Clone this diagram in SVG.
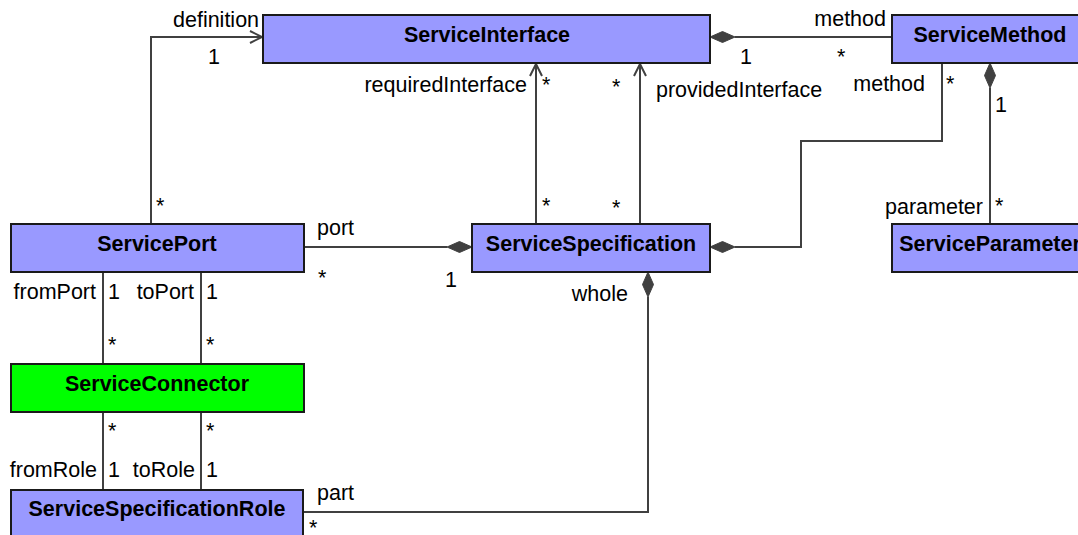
<svg xmlns="http://www.w3.org/2000/svg" width="1078" height="535" viewBox="0 0 1078 535">
<defs>
<style>
.node{fill:#9999ff;stroke:#1a1a1a;stroke-width:2}
.green{fill:#00ff00}
.name{font-family:"Liberation Sans",Arial,sans-serif;font-size:21.5px;font-weight:bold;fill:#000;text-anchor:middle}
.lbl{font-family:"Liberation Sans",Arial,sans-serif;font-size:21.5px;fill:#000}
.e{text-anchor:end}
.edge{fill:none;stroke:#404040;stroke-width:2}
.dia{fill:#404040;stroke:#404040;stroke-width:1}
</style>
<marker id="open" markerWidth="16" markerHeight="16" refX="13" refY="7" orient="auto" markerUnits="userSpaceOnUse">
<path d="M1,1 L13,7 L1,13" fill="none" stroke="#404040" stroke-width="2"/>
</marker>
</defs>
<rect width="1078" height="535" fill="#fff"/>
<g id="connectors">
<!-- definition -->
<path class="edge" d="M151,224 V37 H262" marker-end="url(#open)"/>
<!-- requiredInterface -->
<path class="edge" d="M536,224 V64" marker-end="url(#open)"/>
<!-- providedInterface -->
<path class="edge" d="M640,224 V64" marker-end="url(#open)"/>
<!-- ServiceInterface - ServiceMethod -->
<path class="edge" d="M735,37 H892"/>
<polygon class="dia" points="710,37 722.5,31.5 735,37 722.5,42.5"/>
<!-- ServiceMethod - ServiceSpecification -->
<path class="edge" d="M942,63 V141 H801 V247 H735"/>
<polygon class="dia" points="710,247 722.5,241.5 735,247 722.5,252.5"/>
<!-- ServiceMethod - ServiceParameter -->
<path class="edge" d="M990,88 V224"/>
<polygon class="dia" points="990,63 995.5,75.5 990,88 984.5,75.5"/>
<!-- port -->
<path class="edge" d="M304,247 H447"/>
<polygon class="dia" points="472,247 459.5,241.5 447,247 459.5,252.5"/>
<!-- fromPort / toPort -->
<path class="edge" d="M103,272 V364"/>
<path class="edge" d="M201,272 V364"/>
<!-- fromRole / toRole -->
<path class="edge" d="M103,412 V490"/>
<path class="edge" d="M201,412 V490"/>
<!-- whole / part -->
<path class="edge" d="M648,297 V512 H303"/>
<polygon class="dia" points="648,272 653.5,284.5 648,297 642.5,284.5"/>
</g>
<g id="labels">
<text class="lbl" x="173" y="27">definition</text>
<text class="lbl" x="208" y="64">1</text>
<text class="lbl" x="156" y="213">*</text>
<text class="lbl e" x="527" y="92">requiredInterface</text>
<text class="lbl" x="542" y="92">*</text>
<text class="lbl" x="542" y="213">*</text>
<text class="lbl" x="612" y="94">*</text>
<text class="lbl" x="612" y="215">*</text>
<text class="lbl" x="656" y="97">providedInterface</text>
<text class="lbl e" x="886" y="26">method</text>
<text class="lbl" x="740" y="64">1</text>
<text class="lbl" x="837" y="64">*</text>
<text class="lbl e" x="925" y="91">method</text>
<text class="lbl" x="946" y="91">*</text>
<text class="lbl" x="995" y="112">1</text>
<text class="lbl e" x="983" y="214">parameter</text>
<text class="lbl" x="995" y="213">*</text>
<text class="lbl" x="317" y="235">port</text>
<text class="lbl" x="318" y="285">*</text>
<text class="lbl" x="445" y="287">1</text>
<text class="lbl e" x="96" y="299">fromPort</text>
<text class="lbl" x="108" y="299">1</text>
<text class="lbl e" x="194" y="299">toPort</text>
<text class="lbl" x="206" y="299">1</text>
<text class="lbl" x="108" y="352">*</text>
<text class="lbl" x="206" y="352">*</text>
<text class="lbl e" x="628" y="301">whole</text>
<text class="lbl" x="108" y="438">*</text>
<text class="lbl" x="206" y="438">*</text>
<text class="lbl e" x="97" y="477">fromRole</text>
<text class="lbl" x="108" y="477">1</text>
<text class="lbl e" x="195" y="477">toRole</text>
<text class="lbl" x="206" y="477">1</text>
<text class="lbl" x="317" y="500">part</text>
<text class="lbl" x="309" y="535">*</text>
</g>
<g id="ServiceInterface">
<rect class="node" x="263" y="15" width="447" height="48"/>
<text class="name" x="487" y="42">ServiceInterface</text>
</g>
<g id="ServiceMethod">
<rect class="node" x="892" y="15" width="196" height="48"/>
<text class="name" x="990" y="42">ServiceMethod</text>
</g>
<g id="ServicePort">
<rect class="node" x="11" y="224" width="293" height="48"/>
<text class="name" x="157" y="251">ServicePort</text>
</g>
<g id="ServiceSpecification">
<rect class="node" x="472" y="224" width="238" height="48"/>
<text class="name" x="591" y="251">ServiceSpecification</text>
</g>
<g id="ServiceParameter">
<rect class="node" x="892" y="224" width="196" height="48"/>
<text class="name" x="990" y="251">ServiceParameter</text>
</g>
<g id="ServiceConnector">
<rect class="node green" x="11" y="364" width="293" height="48"/>
<text class="name" x="157" y="391">ServiceConnector</text>
</g>
<g id="ServiceSpecificationRole">
<rect class="node" x="11" y="490" width="292" height="60"/>
<text class="name" x="157" y="516">ServiceSpecificationRole</text>
</g>
</svg>
